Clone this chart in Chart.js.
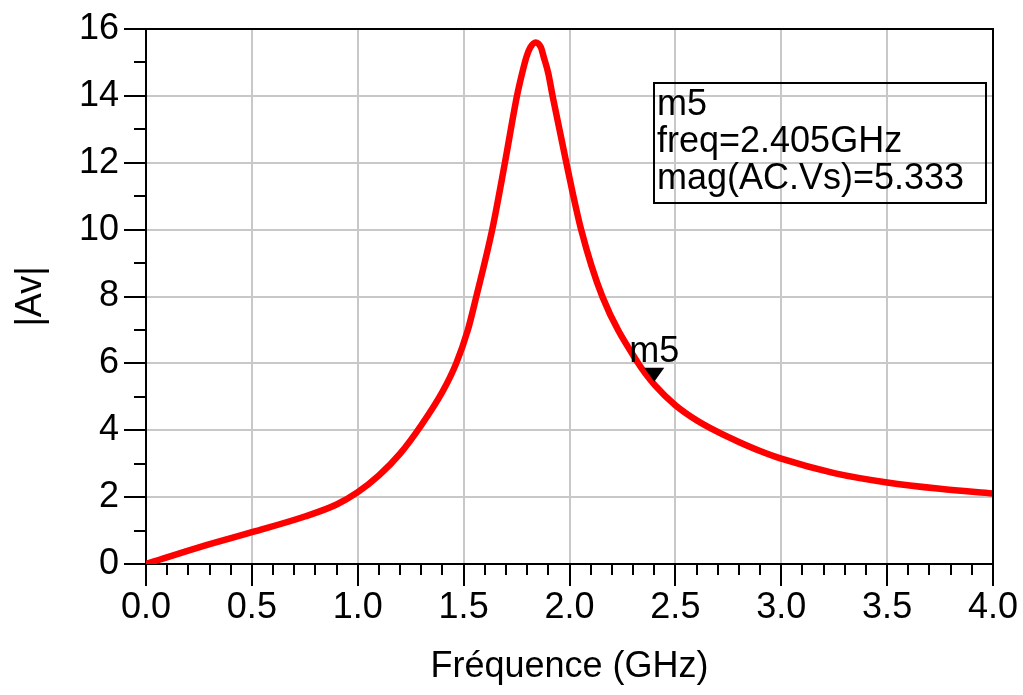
<!DOCTYPE html>
<html>
<head>
<meta charset="utf-8">
<script src="https://cdn.jsdelivr.net/npm/chart.js@4"></script>
<style>
  body { margin: 0; background: #fff; }
  #wrap { width: 1023px; height: 695px; }
</style>
</head>
<body>
<div id="wrap"><canvas id="avChart" width="1023" height="695"></canvas></div>
<script>
// frequency (GHz) and |Av|
var freq = [0, 0.25, 0.5, 0.75, 0.9, 1.0, 1.1, 1.2, 1.3, 1.4, 1.465, 1.52, 1.56, 1.635, 1.695, 1.752, 1.776, 1.797, 1.815, 1.84, 1.865, 1.878, 1.90, 1.92, 1.985, 2.055, 2.155, 2.325, 2.405, 2.5, 2.6, 2.7, 2.8, 2.9, 3.0, 3.25, 3.5, 3.75, 4.0];
var mag  = [0, 0.5, 0.95, 1.42, 1.78, 2.15, 2.65, 3.3, 4.15, 5.15, 6.0, 7.0, 8.0, 10.0, 12.0, 14.0, 14.67, 15.17, 15.45, 15.6, 15.45, 15.17, 14.67, 14.0, 12.0, 10.0, 8.0, 6.0, 5.333, 4.75, 4.30, 3.95, 3.65, 3.38, 3.15, 2.72, 2.44, 2.25, 2.11];

// marker m5
var markerName = "m5";
var markerFreq = 2.405;
var markerMag = 5.333;
var markerLines = ["m5", "freq=2.405GHz", "mag(AC.Vs)=5.333"];

var xTitle = "Fréquence (GHz)";
var yTitle = "|Av|";

var FONT = "'Liberation Sans', Arial, sans-serif";
var FSIZE = 36;

var points = [];
for (var i = 0; i < freq.length; i++) {
    points.push({x: freq[i], y: mag[i]});
}

// box round the plot, minor ticks, marker and its label box
var extras = {
    id: 'extras',
    afterDraw: function(chart) {
        var ctx = chart.ctx;
        var a = chart.chartArea;
        var xs = chart.scales.x;
        var ys = chart.scales.y;
        ctx.save();
        ctx.strokeStyle = '#000';
        ctx.lineWidth = 2;
        ctx.beginPath();
        ctx.moveTo(a.left, a.top);
        ctx.lineTo(a.right, a.top);
        ctx.lineTo(a.right, a.bottom);
        ctx.stroke();

        // minor ticks
        ctx.beginPath();
        for (var k = 1; k < 40; k++) {
            if (k % 5 == 0) continue;
            var px = Math.round(xs.getPixelForValue(k / 10));
            ctx.moveTo(px, a.bottom);
            ctx.lineTo(px, a.bottom + 11);
        }
        for (var j = 1; j < 16; j += 2) {
            var py = Math.round(ys.getPixelForValue(j));
            ctx.moveTo(a.left, py);
            ctx.lineTo(a.left - 12, py);
        }
        ctx.stroke();

        // marker triangle
        var mx = xs.getPixelForValue(markerFreq);
        var my = ys.getPixelForValue(markerMag);
        ctx.fillStyle = '#000';
        ctx.beginPath();
        ctx.moveTo(mx - 11, my - 18);
        ctx.lineTo(mx + 9, my - 18);
        ctx.lineTo(mx - 1, my - 4);
        ctx.closePath();
        ctx.fill();
        ctx.font = FSIZE + 'px ' + FONT;
        ctx.textAlign = 'center';
        ctx.textBaseline = 'alphabetic';
        ctx.fillText(markerName, mx - 1, my - 24);

        // info box
        var bx = 654, by = 83;
        ctx.lineWidth = 2;
        ctx.strokeRect(bx, by, 332, 120);
        ctx.textAlign = 'left';
        for (var n = 0; n < markerLines.length; n++) {
            ctx.fillText(markerLines[n], bx + 3, by + 32 + n * 37);
        }
        ctx.restore();
    }
};

new Chart("avChart", {
    type: "line",
    data: {
        datasets: [{
            data: points,
            borderColor: "#ff0000",
            borderWidth: 6.5,
            pointRadius: 0,
            fill: false,
            cubicInterpolationMode: 'monotone'
        }]
    },
    options: {
        responsive: false,
        animation: false,
        layout: { padding: { top: 29, right: 30, left: 0, bottom: 0 } },
        plugins: {
            legend: { display: false },
            tooltip: { enabled: false }
        },
        scales: {
            x: {
                type: 'linear',
                min: 0,
                max: 4,
                afterFit: function(scale) { scale.height = 131; },
                border: { display: true, color: '#000', width: 2 },
                grid: { color: '#c8c8c8', lineWidth: 2, tickColor: '#000', tickLength: 22, tickWidth: 2 },
                ticks: {
                    stepSize: 0.5,
                    color: '#000',
                    padding: 0,
                    maxRotation: 0,
                    font: { size: FSIZE, family: FONT },
                    callback: function(v) { return v.toFixed(1); }
                },
                title: {
                    display: true,
                    text: xTitle,
                    color: '#000',
                    font: { size: FSIZE, family: FONT },
                    padding: { top: 0, bottom: 6 }
                }
            },
            y: {
                min: 0,
                max: 16,
                afterFit: function(scale) { scale.width = 146; },
                border: { display: true, color: '#000', width: 2 },
                grid: { color: '#c8c8c8', lineWidth: 2, tickColor: '#000', tickLength: 22, tickWidth: 2 },
                ticks: {
                    stepSize: 2,
                    color: '#000',
                    padding: 5,
                    font: { size: FSIZE, family: FONT }
                },
                title: {
                    display: true,
                    text: yTitle,
                    color: '#000',
                    font: { size: FSIZE, family: FONT },
                    padding: { top: 9, bottom: 0 }
                }
            }
        }
    },
    plugins: [extras]
});
</script>
</body>
</html>
